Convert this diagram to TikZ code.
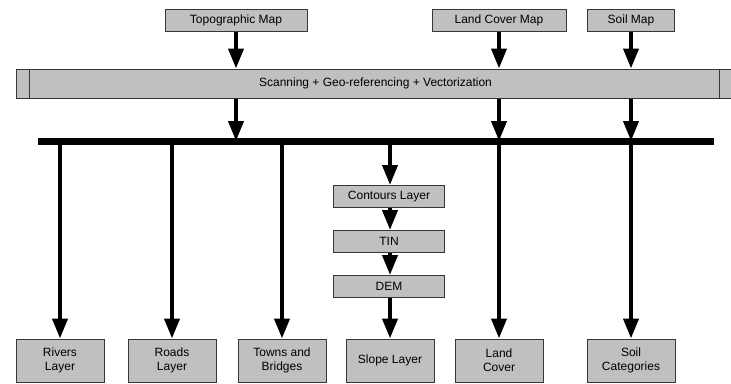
\documentclass[tikz,border=0pt]{standalone}
\usepackage{fontspec}
\setmainfont{Liberation Sans}
\usetikzlibrary{arrows.meta,positioning,calc}
\definecolor{boxgray}{RGB}{192,192,192}
\definecolor{boxline}{RGB}{55,55,55}
\tikzset{
  mapbox/.style={draw=boxline, line width=1pt, fill=boxgray, inner sep=0pt,
    font=\fontsize{12}{14}\selectfont, align=center, minimum height=22pt},
  layerbox/.style={mapbox, minimum width=88pt, minimum height=43pt},
  stepbox/.style={mapbox, minimum width=111pt, minimum height=22pt},
  flow/.style={line width=4pt, -{Triangle[width=15pt,length=20pt]}},
}
\begin{document}
\begin{tikzpicture}[x=1pt,y=-1pt]
\useasboundingbox (0,0) rectangle (731,383);
% source maps
\node[mapbox, minimum width=142pt] (topo) at (236,20) {Topographic Map};
\node[mapbox, minimum width=134pt] (landmap) at (499,20) {Land Cover Map};
\node[mapbox, minimum width=87pt] (soilmap) at (631,20) {Soil Map};
% processing bar
\node[mapbox, minimum width=719pt, minimum height=29pt] (scan) at (375.5,83.5) {Scanning + Geo-referencing + Vectorization};
\draw[boxline, line width=1pt] ($(scan.north west)+(14,0)$) -- ($(scan.south west)+(14,0)$);
\draw[boxline, line width=1pt] ($(scan.north east)+(-16,0)$) -- ($(scan.south east)+(-16,0)$);
% bus
\coordinate (busL) at (38,141);
\coordinate (busR) at (714,141);
% layers
\node[layerbox, align=center] (rivers) at (60,360.5) {Rivers\\Layer};
\node[layerbox, right=23pt of rivers] (roads) {Roads\\Layer};
\node[layerbox, right=21pt of roads] (towns) {Towns and\\Bridges};
\node[layerbox] (slope) at (390,360.5) {Slope Layer};
\node[layerbox] (landcover) at (499,360.5) {Land\\Cover};
\node[layerbox] (soilcat) at (631,360.5) {Soil\\Categories};
% terrain chain
\node[stepbox] (contours) at (389,196.5) {Contours Layer};
\node[stepbox, below=22pt of contours] (tin) {TIN};
\node[stepbox, below=22pt of tin] (dem) {DEM};
% connectors
\draw[flow] (topo.south) -- (topo.south |- scan.north);
\draw[flow] (landmap.south) -- (landmap.south |- scan.north);
\draw[flow] (soilmap.south) -- (soilmap.south |- scan.north);
\draw[flow] (topo.south |- scan.south) -- (topo.south |- busL);
\draw[flow] (landmap.south |- scan.south) -- (landmap.south |- busL);
\draw[flow] (soilmap.south |- scan.south) -- (soilmap.south |- busL);
\draw[line width=7pt] (busL) -- (busR);
\draw[flow] (rivers.north |- busL) -- (rivers.north);
\draw[flow] (roads.north |- busL) -- (roads.north);
\draw[flow] (towns.north |- busL) -- (towns.north);
\draw[flow] (slope.north |- busL) -- (slope.north |- contours.north);
\draw[flow] (slope.north |- contours.south) -- (slope.north |- tin.north);
\draw[flow] (slope.north |- tin.south) -- (slope.north |- dem.north);
\draw[flow] (slope.north |- dem.south) -- (slope.north);
\draw[flow] (landcover.north |- busL) -- (landcover.north);
\draw[flow] (soilcat.north |- busL) -- (soilcat.north);
\end{tikzpicture}
\end{document}
